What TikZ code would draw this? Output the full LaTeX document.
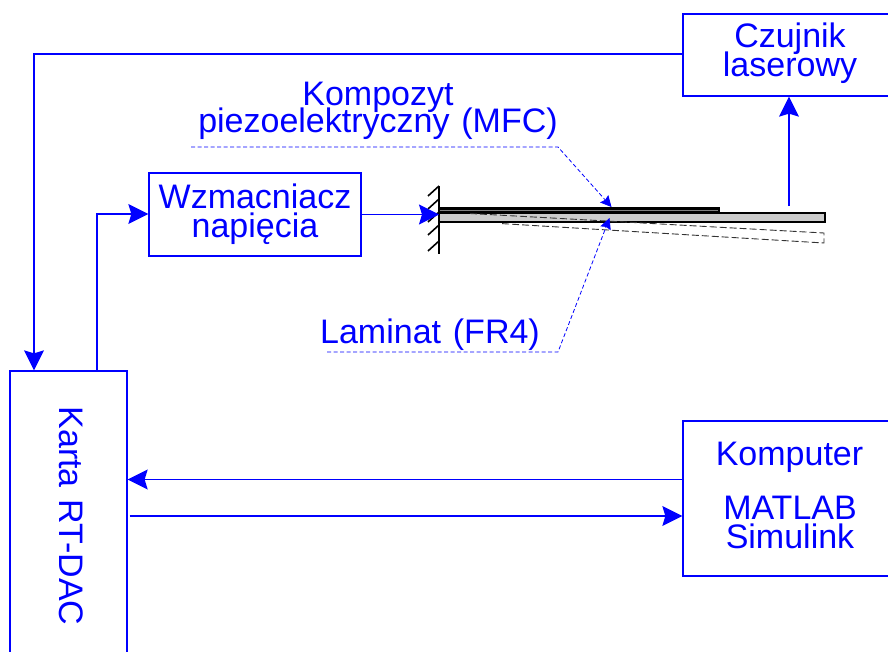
\documentclass[tikz,border=0pt]{standalone}
\usepackage{fontspec}
\setmainfont{Liberation Sans}[WordSpace=1.25]
\usetikzlibrary{arrows.meta,calc}
\definecolor{bl}{RGB}{0,0,255}
\newcommand\tightlines{\lineskiplimit -100bp\relax}
\tikzset{
  x=1bp,y=-1bp,
  boxn/.style={draw=bl,line width=1.3bp,inner sep=0pt,minimum width=#1},
  txt/.style={text=bl,font=\fontsize{34bp}{29bp}\selectfont\tightlines,align=center,inner sep=0pt},
  conn/.style={draw=bl,line width=1.3bp,-{Stealth[length=20bp,width=20bp,inset=3bp]}},
  leader/.style={draw=bl,line width=0.8bp,dash pattern=on 4bp off 2.5bp,-{Stealth[length=11bp,width=11bp,inset=1.5bp]}},
  ghost/.style={draw=black!80,line width=0.9bp,dash pattern=on 7bp off 3bp},
  beamn/.style={draw=black,line width=2.4bp,inner sep=0pt},
}
\begin{document}
\begin{tikzpicture}
\useasboundingbox (0,0) rectangle (888,652);
\clip (0,0) rectangle (888,652);
\node[boxn=207bp,minimum height=82bp] (czuj) at (786.5,55) {};
\node[txt,anchor=center] (czujt) at (790,53) {Czujnik\\laserowy};
\node[boxn=212bp,minimum height=83bp,txt] (wzm) at (255,214.5) {Wzmacniacz\\napięcia};
\node[boxn=117bp,minimum height=300bp] (karta) at (68.5,521) {};
\node[txt,rotate=-90,anchor=center] (kartat) at (71,516) {Karta RT-DAC};
\node[boxn=207bp,minimum height=155bp] (komp) at (786.5,498.5) {};
\node[txt,anchor=center] (kompa) at (789.5,457) {Komputer};
\node[txt,anchor=center] (kompb) at (790,522) {MATLAB\\Simulink};
\node[txt,anchor=center,font=\fontsize{34bp}{27bp}\selectfont\tightlines] (mfc) at (378,111) {Kompozyt\\piezoelektryczny (MFC)};
\node[txt,anchor=center] (lam) at (430,335) {Laminat (FR4)};
% beam
\coordinate (wallT) at (439,186);
\coordinate (wallB) at (439,254);
\node[beamn,fill=black!20,minimum width=386bp,minimum height=9bp] (fr4) at (632,217.5) {};
\node[beamn,fill=black!50,minimum width=280bp,minimum height=4bp] (pz) at (579,210.5) {};
\coordinate (g1) at (470,213.5);
\coordinate (g2) at (824,233);
\coordinate (g3) at (824,243);
\coordinate (g4) at (500,223.5);
\draw[ghost] (g1) -- (g2) -- (g3) -- (g4);
\draw[black,line width=1.6bp] (wallT) -- (wallB);
\foreach \y in {199,212,225,238,254} \draw[black,line width=1.6bp] (439,\y-13) -- (428,\y-3);
% connectors
\coordinate (c1) at (34,54);
\draw[conn] (czuj.west |- c1) -- (c1) -- (c1 |- karta.north);
\coordinate (c2) at (97,214);
\draw[conn] (c2 |- karta.north) -- (c2) -- (wzm.west |- c2);
\draw[conn] (wzm.east) -- (wallT |- wzm.east);
\coordinate (c3) at (789,206);
\draw[conn] (c3) -- (c3 |- czuj.south);
\coordinate (c4) at (0,479.5);
\coordinate (c5) at (0,516);
\draw[conn] (komp.west |- c4) -- (karta.east |- c4);
\draw[conn] ($(karta.east |- c5)+(2,0)$) -- (komp.west |- c5);
% leaders
\coordinate (l1) at (191,147);
\coordinate (l2) at (558,147);
\coordinate (l3) at (611.5,207);
\coordinate (l4) at (327,352);
\coordinate (l5) at (558,352);
\coordinate (l6) at (609.5,218);
\draw[leader] (l1) -- (l2) -- (l3);
\draw[leader] (l4) -- (l5) -- (l6);
\end{tikzpicture}
\end{document}
